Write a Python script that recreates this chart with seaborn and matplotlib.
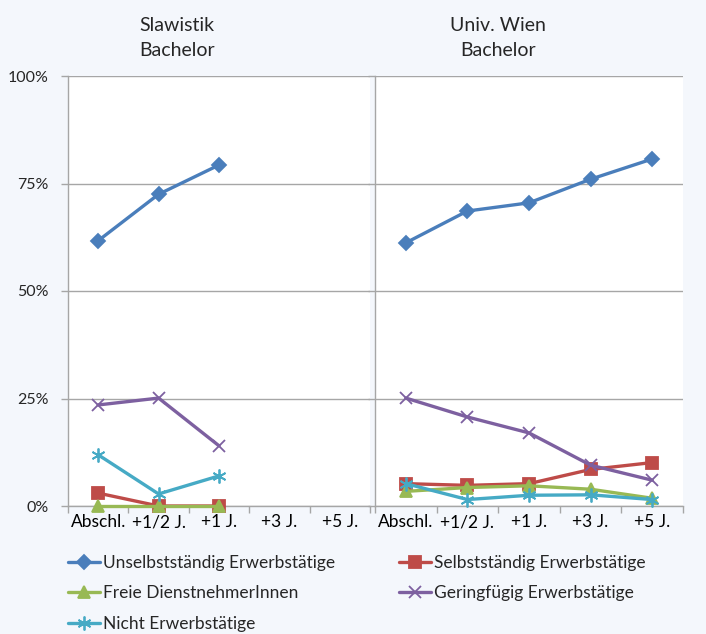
import matplotlib
matplotlib.use("Agg")
import matplotlib.pyplot as plt
import seaborn as sns
import pandas as pd
from matplotlib.ticker import FixedLocator, FuncFormatter
from matplotlib.lines import Line2D

categories = ["Abschl.", "+1/2 J.", "+1 J.", "+3 J.", "+5 J."]
series = ["Unselbstständig Erwerbstätige", "Selbstständig Erwerbstätige",
          "Freie DienstnehmerInnen", "Geringfügig Erwerbstätige", "Nicht Erwerbstätige"]

# Slawistik Bachelor (only first three time points)
slaw_unselb = [61.7, 72.5, 79.3]
slaw_selb = [3.0, 0.0, 0.0]
slaw_freie = [0.0, 0.0, 0.0]
slaw_gering = [23.5, 25.1, 14.0]
slaw_nicht = [11.9, 2.8, 7.0]

# Univ. Wien Bachelor
uni_unselb = [61.2, 68.6, 70.5, 76.0, 80.7]
uni_selb = [5.2, 4.8, 5.2, 8.5, 10.1]
uni_freie = [3.4, 4.3, 4.7, 3.9, 1.8]
uni_gering = [25.1, 20.7, 17.0, 9.5, 6.0]
uni_nicht = [5.2, 1.5, 2.5, 2.6, 1.5]

colors = ["#4A7EBB", "#BE4B48", "#98B954", "#7D60A0", "#46AAC5"]
markers = ["D", "s", "^", "x", (6, 2, 0)]
msizes = [7, 9, 9, 9, 10]

def to_long(vals_list):
    rows = []
    for s, vals in zip(series, vals_list):
        for i, v in enumerate(vals):
            rows.append({"Serie": s, "Zeitpunkt": categories[i], "pos": i, "Wert": v})
    return pd.DataFrame(rows)

df_slaw = to_long([slaw_unselb, slaw_selb, slaw_freie, slaw_gering, slaw_nicht])
df_uni = to_long([uni_unselb, uni_selb, uni_freie, uni_gering, uni_nicht])

sns.set_style("white")
plt.rcParams["font.family"] = ["Lato", "DejaVu Sans"]

bg = "#F4F7FC"
fig = plt.figure(figsize=(7.06, 6.34), dpi=100, facecolor=bg)
H = 634.0
W = 706.0
top_px, bot_px = 76, 506
ax1 = fig.add_axes([68 / W, 1 - bot_px / H, (370 - 68) / W, (bot_px - top_px) / H])
ax2 = fig.add_axes([375 / W, 1 - bot_px / H, (683 - 375) / W, (bot_px - top_px) / H])

grid_c = "#A6A6A6"
for ax, df in [(ax1, df_slaw), (ax2, df_uni)]:
    ax.set_facecolor("white")
    for s, c, m, ms in zip(series, colors, markers, msizes):
        sub = df[df["Serie"] == s]
        sns.lineplot(data=sub, x="pos", y="Wert", ax=ax, color=c, marker=m,
                     markersize=ms, linewidth=2.4, markeredgecolor=c,
                     markeredgewidth=1.3, legend=False, clip_on=False, zorder=3)
    ax.set_xlim(-0.5, 4.5)
    ax.set_ylim(0, 100)
    ax.yaxis.set_major_locator(FixedLocator([0, 25, 50, 75, 100]))
    ax.grid(axis="y", color=grid_c, linewidth=1.0, zorder=0)
    ax.set_axisbelow(True)
    ax.xaxis.set_major_locator(FixedLocator(range(len(categories))))
    ax.set_xticklabels(categories, fontsize=12.5)
    ax.xaxis.set_minor_locator(FixedLocator([i - 0.5 for i in range(len(categories) + 1)]))
    ax.tick_params(axis="x", which="major", length=0, pad=6, colors="black")
    ax.tick_params(axis="x", which="minor", length=5, width=1, color=grid_c, direction="out")
    ax.tick_params(axis="x", which="both", bottom=True)
    ax.tick_params(axis="y", length=5, width=1, color=grid_c, direction="out", left=True)
    for sp in ["top", "right"]:
        ax.spines[sp].set_visible(False)
    for sp in ["left", "bottom"]:
        ax.spines[sp].set_color(grid_c)
        ax.spines[sp].set_linewidth(1.0)
    ax.set_xlabel("")
    ax.set_ylabel("")

ax1.yaxis.set_major_formatter(FuncFormatter(lambda v, p: f"{int(v)}%"))
ax1.tick_params(axis="y", labelsize=11.5, pad=9)
ax2.set_yticklabels([])

fig.text(177 / W, 1 - 38 / H, "Slawistik\nBachelor", ha="center", va="center",
         fontsize=14, linespacing=1.55)
fig.text(498 / W, 1 - 38 / H, "Univ. Wien\nBachelor", ha="center", va="center",
         fontsize=14, linespacing=1.55)

handles = [Line2D([0], [0], color=c, marker=m, markersize=ms, linewidth=2.4,
                  markeredgecolor=c, markeredgewidth=1.3)
           for c, m, ms in zip(colors, markers, msizes)]
# matplotlib fills legend columns first; reorder so rows read like the reference
order = [0, 2, 4, 1, 3]
fig.legend([handles[i] for i in order], [series[i] for i in order],
           loc="upper left", bbox_to_anchor=(63 / W, 1 - 550 / H),
           ncol=2, frameon=False, fontsize=12.5, handlelength=1.85, handletextpad=0.15,
           columnspacing=3.7, labelspacing=0.82, borderaxespad=0, borderpad=0.3)

fig.savefig("out.png", dpi=100, facecolor=bg)
